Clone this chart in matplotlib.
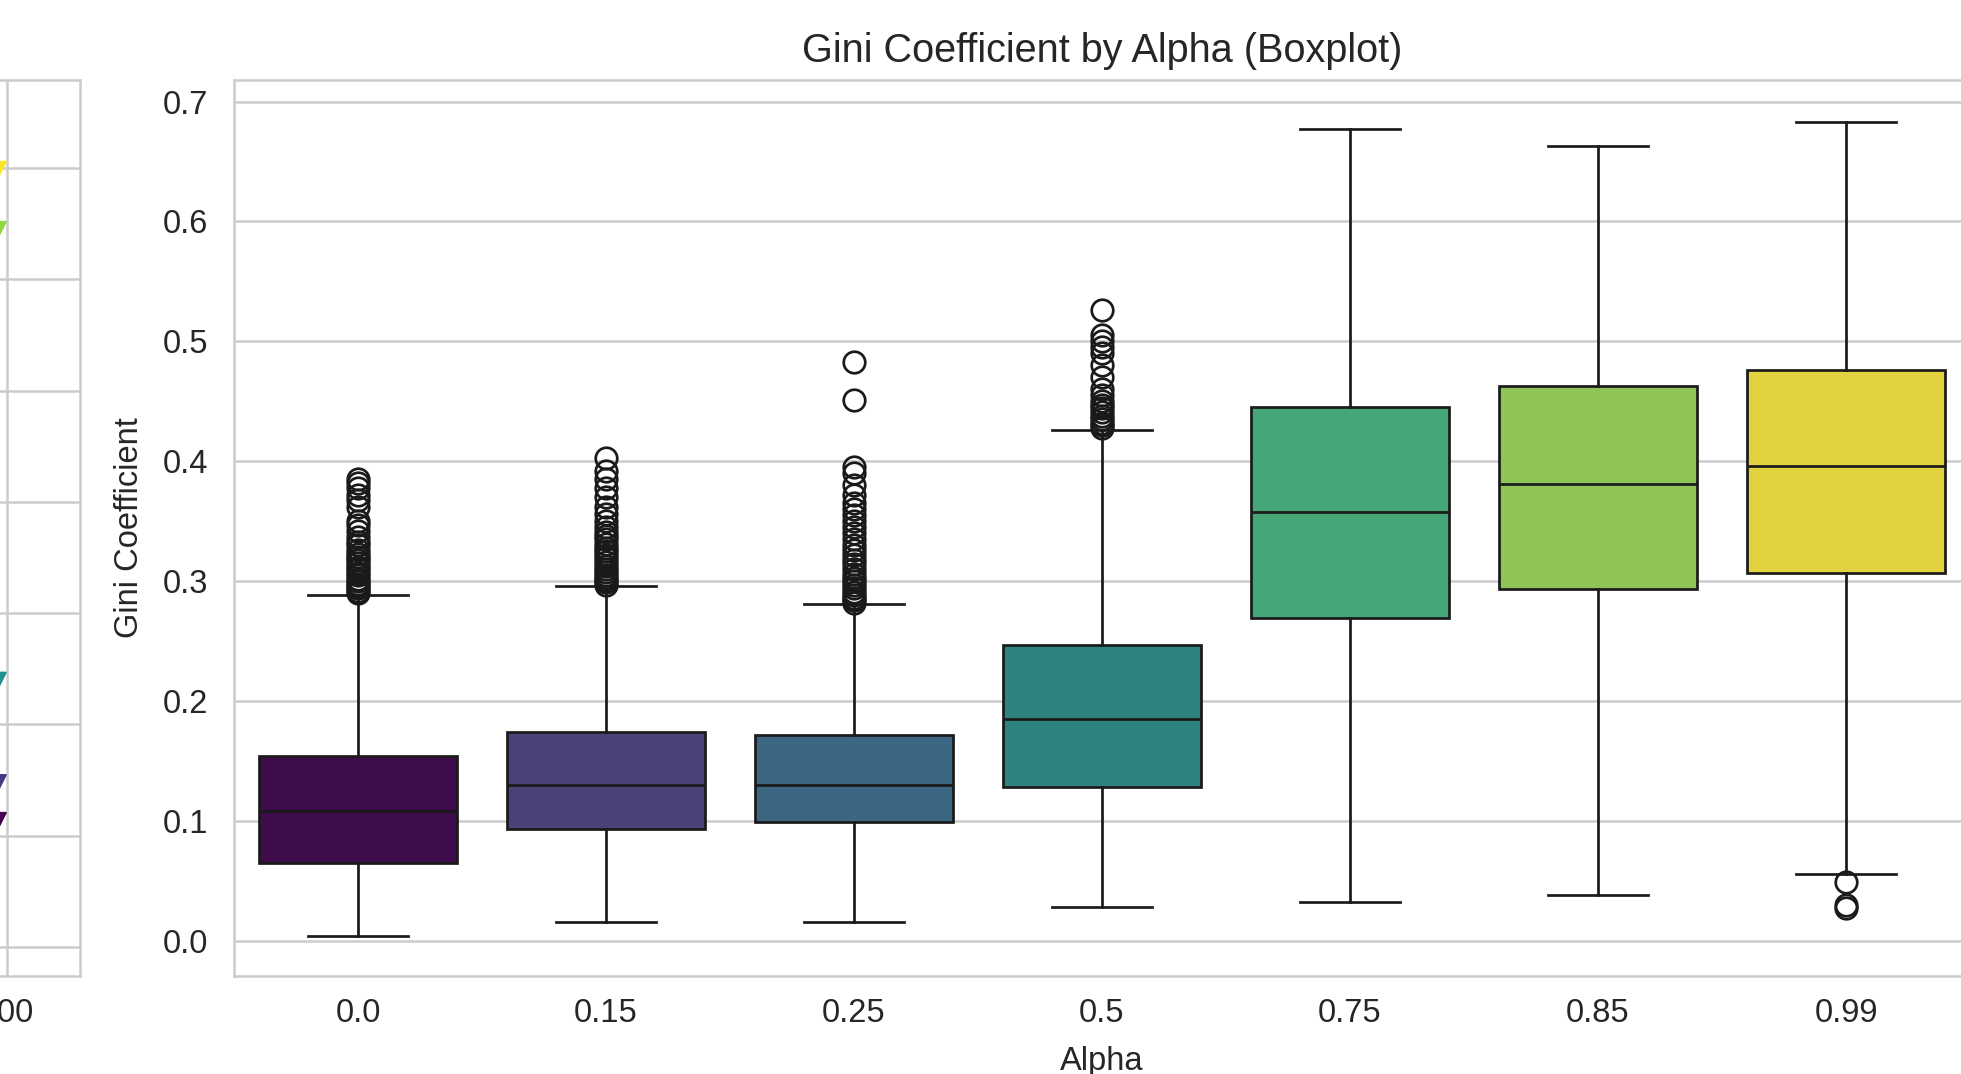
import colorsys
import matplotlib
matplotlib.use("Agg")
import matplotlib.pyplot as plt
from matplotlib import colors as mcolors

plt.rcParams['font.family'] = ['Liberation Sans', 'DejaVu Sans']

# ---------------- data ----------------
alphas = [0.0, 0.15, 0.25, 0.5, 0.75, 0.85, 0.99]
alpha_labels = ["0.0", "0.15", "0.25", "0.5", "0.75", "0.85", "0.99"]
q1 = [0.065, 0.093, 0.099, 0.128, 0.269, 0.293, 0.307]
median = [0.1085, 0.130, 0.130, 0.185, 0.358, 0.381, 0.396]
q3 = [0.1545, 0.174, 0.172, 0.247, 0.445, 0.463, 0.476]
whisker_low = [0.004, 0.0156, 0.0156, 0.028, 0.032, 0.038, 0.056]
whisker_high = [0.288, 0.296, 0.281, 0.426, 0.677, 0.663, 0.683]
fliers_00 = [0.290, 0.292, 0.294, 0.296, 0.298, 0.300, 0.302, 0.305, 0.307, 0.310,
             0.312, 0.315, 0.318, 0.320, 0.323, 0.326, 0.330, 0.333, 0.337, 0.342,
             0.347, 0.350, 0.362, 0.368, 0.372, 0.378, 0.382, 0.385]
fliers_015 = [0.297, 0.299, 0.301, 0.303, 0.305, 0.308, 0.310, 0.313, 0.316, 0.319,
              0.322, 0.325, 0.328, 0.331, 0.335, 0.338, 0.341, 0.345, 0.350, 0.356,
              0.362, 0.370, 0.378, 0.385, 0.392, 0.403]
fliers_025 = [0.282, 0.284, 0.286, 0.288, 0.291, 0.294, 0.297, 0.300, 0.303, 0.306,
              0.310, 0.314, 0.318, 0.322, 0.326, 0.330, 0.335, 0.340, 0.345, 0.350,
              0.355, 0.360, 0.365, 0.372, 0.380, 0.390, 0.395, 0.451, 0.483]
fliers_05 = [0.428, 0.430, 0.432, 0.435, 0.438, 0.441, 0.444, 0.447, 0.450, 0.455,
             0.460, 0.470, 0.480, 0.490, 0.495, 0.500, 0.505, 0.526]
fliers_075 = []
fliers_085 = []
fliers_099 = [0.049, 0.030, 0.027]

# left (partially visible) panel: markers at the right edge
left_x_ticks = [0, 200, 400, 600]
left_marker_x = [592, 592, 592, 592, 592]
left_marker_y = [6.97, 6.43, 2.38, 1.46, 1.12]
left_marker_idx = [6, 5, 3, 1, 0]

# ---------------- style ----------------
TXT = '#262626'
GRID = '#cccccc'

def desat(c, s=0.75):
    r, g, b = mcolors.to_rgb(c)
    h, l, sat = colorsys.rgb_to_hls(r, g, b)
    return colorsys.hls_to_rgb(h, l, sat * s)

cmap = matplotlib.colormaps['viridis']
n = len(alphas)
pal = [cmap(i / (n - 1)) for i in range(n)]
box_colors = [desat(c) for c in pal]

W, H = 1961, 1074
fig = plt.figure(figsize=(W / 100, H / 100), dpi=100)

def frac(x0, y_top, x1, y_bot):
    return [x0 / W, 1 - y_bot / H, (x1 - x0) / W, (y_bot - y_top) / H]

# ---- left panel ----
axL = fig.add_axes(frac(-800, 80, 80, 976))
axL.set_xlim(-30, 657.3)
axL.set_ylim(-0.26, 7.79)
axL.set_xticks(left_x_ticks)
axL.set_yticks(range(8))
axL.grid(True, color=GRID, lw=1.8)
axL.set_axisbelow(True)
for s in axL.spines.values():
    s.set_color(GRID)
    s.set_linewidth(1.8)
axL.tick_params(length=0, labelsize=23.5, labelcolor=TXT, pad=16)
axL.scatter(left_marker_x, left_marker_y, marker='v', s=200,
            c=[pal[i] for i in left_marker_idx], zorder=3, clip_on=False)

# ---- main panel ----
ax = fig.add_axes(frac(234, 80, 1970, 976))
fliers = [fliers_00, fliers_015, fliers_025, fliers_05, fliers_075, fliers_085, fliers_099]
stats = []
for i in range(n):
    stats.append(dict(med=median[i], q1=q1[i], q3=q3[i], whislo=whisker_low[i],
                      whishi=whisker_high[i], fliers=fliers[i], label=alpha_labels[i]))

LW = 1.95
bp = ax.bxp(stats, positions=range(n), widths=0.8, patch_artist=True,
            showfliers=True,
            boxprops=dict(edgecolor='#1a1a1a', linewidth=LW),
            medianprops=dict(color='#1a1a1a', linewidth=LW),
            whiskerprops=dict(color='#1a1a1a', linewidth=LW),
            capprops=dict(color='#1a1a1a', linewidth=LW),
            capwidths=0.4,
            flierprops=dict(marker='o', markerfacecolor='none', markeredgecolor='#1a1a1a',
                            markersize=15.5, markeredgewidth=LW))
for patch, col in zip(bp['boxes'], box_colors):
    patch.set_facecolor(col)

ax.set_xlim(-0.5, 6.5)
ax.set_ylim(-0.0294, 0.718)
ax.set_yticks([0.0, 0.1, 0.2, 0.3, 0.4, 0.5, 0.6, 0.7])
ax.set_xticks(range(n))
ax.set_xticklabels(alpha_labels)
ax.grid(True, axis='y', color=GRID, lw=1.8)
ax.set_axisbelow(True)
for s in ax.spines.values():
    s.set_color(GRID)
    s.set_linewidth(1.8)
ax.tick_params(axis='both', length=0, labelsize=23.5, labelcolor=TXT)
ax.tick_params(axis='y', pad=18.5)
ax.tick_params(axis='x', pad=16)
ax.set_title("Gini Coefficient by Alpha (Boxplot)", fontsize=28.5, color=TXT, pad=13)
ax.set_xlabel("Alpha", fontsize=23.5, color=TXT, labelpad=12)
ax.set_ylabel("Gini Coefficient", fontsize=23.5, color=TXT, labelpad=12.5)

fig.savefig("out.png", dpi=100)
